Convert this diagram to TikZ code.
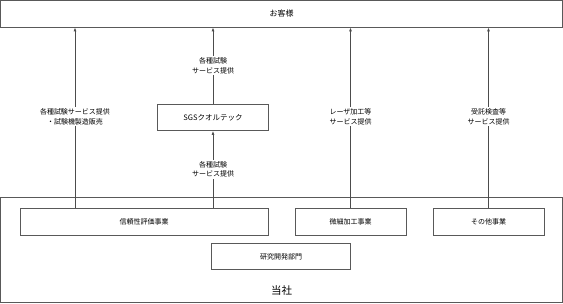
\documentclass[tikz,border=0pt]{standalone}
\usepackage{fontspec}
\newfontfamily\jp{Noto Sans CJK JP}
\usetikzlibrary{arrows.meta}
\begin{document}
\begin{tikzpicture}[x=1pt,y=-1pt,
  box/.style={draw=black!65,line width=0.8pt,fill=white,inner sep=0pt,font=\jp\fontsize{7}{8}\selectfont},
  lbl/.style={fill=white,inner sep=1.5pt,align=center,font=\jp\fontsize{7}{9.5}\selectfont},
  conn/.style={draw=black!70,line width=0.9pt,-{Latex[length=4pt,width=3pt]}}]
\useasboundingbox (0,0) rectangle (563,304);
\node[box,minimum width=562pt,minimum height=27pt,font=\jp\fontsize{8}{9}\selectfont] (cust) at (281.5,13.5) {お客様};
\node[box,minimum width=562pt,minimum height=105pt,anchor=north] (co) at (281.5,197) {};
\node[font=\jp\fontsize{10.5}{12}\selectfont] (cot) at (281.5,291) {当社};
\node[box,minimum width=248pt,minimum height=27pt] (rel) at (144,221.5) {信頼性評価事業};
\node[box,minimum width=111pt,minimum height=27pt] (micro) at (350.5,221.5) {微細加工事業};
\node[box,minimum width=111pt,minimum height=27pt] (other) at (488.5,221.5) {その他事業};
\node[box,minimum width=139pt,minimum height=26pt] (rd) at (281,256.5) {研究開発部門};
\node[box,minimum width=111pt,minimum height=26pt,font=\jp\fontsize{7.5}{8}\selectfont] (sgs) at (213,117.5) {SGSクオルテック};
\coordinate (r1) at (75,208);
\coordinate (r2) at (213,208);
\draw[conn] (r1) -- (r1|-cust.south) node[lbl,pos=0.505] (l1) {各種試験サービス提供\\・試験機製造販売};
\draw[conn] (r2) -- (sgs.south) node[lbl,midway] (l2) {各種試験\\サービス提供};
\draw[conn] (sgs.north) -- (sgs.north|-cust.south) node[lbl,midway] (l3) {各種試験\\サービス提供};
\draw[conn] (micro.north) -- (micro.north|-cust.south) node[lbl,pos=0.505] (l4) {レーザ加工等\\サービス提供};
\draw[conn] (other.north) -- (other.north|-cust.south) node[lbl,pos=0.505] (l5) {受託検査等\\サービス提供};
\end{tikzpicture}
\end{document}
